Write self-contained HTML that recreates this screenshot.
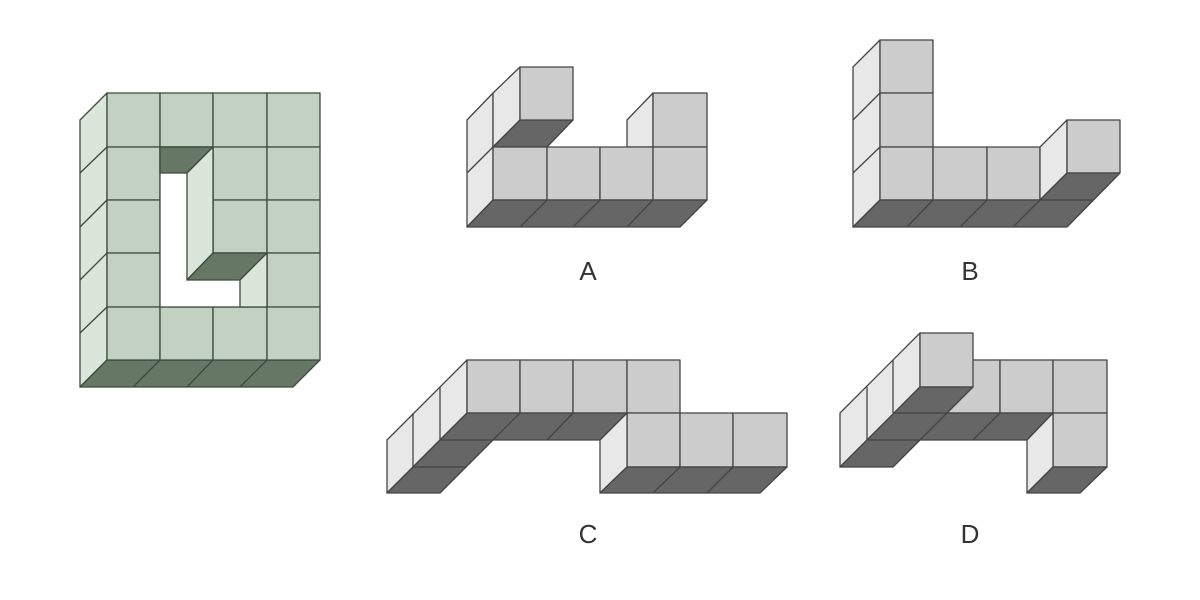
<!DOCTYPE html>
<html><head><meta charset="utf-8"><style>
body{margin:0;background:#fff;}
svg{display:block;}
text{font-family:"Liberation Sans",sans-serif;font-size:26px;fill:#333;text-anchor:middle;}
</style></head><body>
<svg width="1200" height="600" viewBox="0 0 1200 600" xmlns="http://www.w3.org/2000/svg">
<g stroke="#3c4a3c" stroke-width="1.3" stroke-linejoin="round">
<!-- green block -->
<polygon points="80,120 107,93 107,360 80,387" fill="#dae6da"/>
<line x1="80" y1="173" x2="107" y2="147"/><line x1="80" y1="227" x2="107" y2="200"/>
<line x1="80" y1="280" x2="107" y2="253"/><line x1="80" y1="333" x2="107" y2="307"/>
<polygon points="107,360 320,360 293,387 80,387" fill="#667766"/>
<line x1="160" y1="360" x2="133" y2="387"/><line x1="213" y1="360" x2="187" y2="387"/><line x1="267" y1="360" x2="240" y2="387"/>
<g fill="#c2d1c2">
<rect x="107" y="93" width="53" height="54"/><rect x="160" y="93" width="53" height="54"/><rect x="213" y="93" width="54" height="54"/><rect x="267" y="93" width="53" height="54"/>
<rect x="107" y="147" width="53" height="53"/><rect x="213" y="147" width="54" height="53"/><rect x="267" y="147" width="53" height="53"/>
<rect x="107" y="200" width="53" height="53"/><rect x="213" y="200" width="54" height="53"/><rect x="267" y="200" width="53" height="53"/>
<rect x="107" y="253" width="53" height="54"/><rect x="267" y="253" width="53" height="54"/>
<rect x="107" y="307" width="53" height="53"/><rect x="160" y="307" width="53" height="53"/><rect x="213" y="307" width="54" height="53"/><rect x="267" y="307" width="53" height="53"/>
</g>
<polygon points="160,147 213,147 213,253 267,253 267,307 160,307" fill="#fff"/>
<polygon points="160,147 213,147 187,173 160,173" fill="#667766"/>
<polygon points="213,147 213,253 187,280 187,173" fill="#dae6da"/>
<polygon points="213,253 267,253 240,280 187,280" fill="#667766"/>
<polygon points="267,253 267,307 240,307 240,280" fill="#dae6da"/>
</g>

<g stroke="#444" stroke-width="1.3" stroke-linejoin="round">
<!-- A -->
<polygon points="467,120 493,93 493,200 467,227" fill="#e8e8e8"/>
<line x1="467" y1="173" x2="493" y2="147"/>
<polygon points="493,93 520,67 520,120 493,147" fill="#e8e8e8"/>
<polygon points="493,147 520,120 573,120 547,147" fill="#666"/>
<rect x="520" y="67" width="53" height="53" fill="#ccc"/>
<polygon points="627,120 653,93 653,147 627,147" fill="#e8e8e8"/>
<rect x="653" y="93" width="54" height="54" fill="#ccc"/>
<g fill="#ccc"><rect x="493" y="147" width="54" height="53"/><rect x="547" y="147" width="53" height="53"/><rect x="600" y="147" width="53" height="53"/><rect x="653" y="147" width="54" height="53"/></g>
<polygon points="493,200 707,200 680,227 467,227" fill="#666"/>
<line x1="547" y1="200" x2="520" y2="227"/><line x1="600" y1="200" x2="573" y2="227"/><line x1="653" y1="200" x2="627" y2="227"/>

<!-- B -->
<polygon points="853,67 880,40 880,200 853,227" fill="#e8e8e8"/>
<line x1="853" y1="120" x2="880" y2="93"/><line x1="853" y1="173" x2="880" y2="147"/>
<g fill="#ccc"><rect x="880" y="40" width="53" height="53"/><rect x="880" y="93" width="53" height="54"/><rect x="880" y="147" width="53" height="53"/><rect x="933" y="147" width="54" height="53"/><rect x="987" y="147" width="53" height="53"/></g>
<polygon points="1040,147 1067,120 1067,173 1040,200" fill="#e8e8e8"/>
<rect x="1067" y="120" width="53" height="53" fill="#ccc"/>
<polygon points="880,200 1040,200 1067,173 1120,173 1067,227 853,227" fill="#666"/>
<line x1="933" y1="200" x2="907" y2="227"/><line x1="987" y1="200" x2="960" y2="227"/><line x1="1040" y1="200" x2="1013" y2="227"/><line x1="1040" y1="200" x2="1093" y2="200"/>

<!-- C -->
<polygon points="387,440 467,360 467,413 387,493" fill="#e8e8e8"/>
<line x1="413" y1="413" x2="413" y2="467"/><line x1="440" y1="387" x2="440" y2="440"/>
<g fill="#ccc"><rect x="467" y="360" width="53" height="53"/><rect x="520" y="360" width="53" height="53"/><rect x="573" y="360" width="54" height="53"/><rect x="627" y="360" width="53" height="53"/>
<rect x="627" y="413" width="53" height="54"/><rect x="680" y="413" width="53" height="54"/><rect x="733" y="413" width="54" height="54"/></g>
<polygon points="467,413 627,413 600,440 493,440 440,493 387,493" fill="#666"/>
<line x1="440" y1="440" x2="493" y2="440"/><line x1="413" y1="467" x2="467" y2="467"/>
<line x1="520" y1="413" x2="493" y2="440"/><line x1="573" y1="413" x2="547" y2="440"/>
<polygon points="600,440 627,413 627,467 600,493" fill="#e8e8e8"/>
<polygon points="627,467 787,467 760,493 600,493" fill="#666"/>
<line x1="680" y1="467" x2="653" y2="493"/><line x1="733" y1="467" x2="707" y2="493"/>

<!-- D -->
<g fill="#ccc"><rect x="947" y="360" width="53" height="53"/><rect x="1000" y="360" width="53" height="53"/><rect x="1053" y="360" width="54" height="53"/><rect x="1053" y="413" width="54" height="54"/></g>
<polygon points="840,413 920,333 920,387 840,467" fill="#e8e8e8"/>
<line x1="867" y1="387" x2="867" y2="440"/><line x1="893" y1="360" x2="893" y2="413"/>
<rect x="920" y="333" width="53" height="54" fill="#ccc"/>
<polygon points="920,387 973,387 947,413 1053,413 1027,440 920,440 893,467 840,467" fill="#666"/>
<line x1="867" y1="440" x2="920" y2="440"/><line x1="893" y1="413" x2="947" y2="413"/>
<line x1="947" y1="413" x2="920" y2="440"/><line x1="1000" y1="413" x2="973" y2="440"/>
<polygon points="1027,440 1053,413 1053,467 1027,493" fill="#e8e8e8"/>
<polygon points="1053,467 1107,467 1080,493 1027,493" fill="#666"/>
</g>

<text x="588" y="280">A</text>
<text x="970" y="280">B</text>
<text x="588" y="543">C</text>
<text x="970" y="543">D</text>
</svg>
</body></html>
